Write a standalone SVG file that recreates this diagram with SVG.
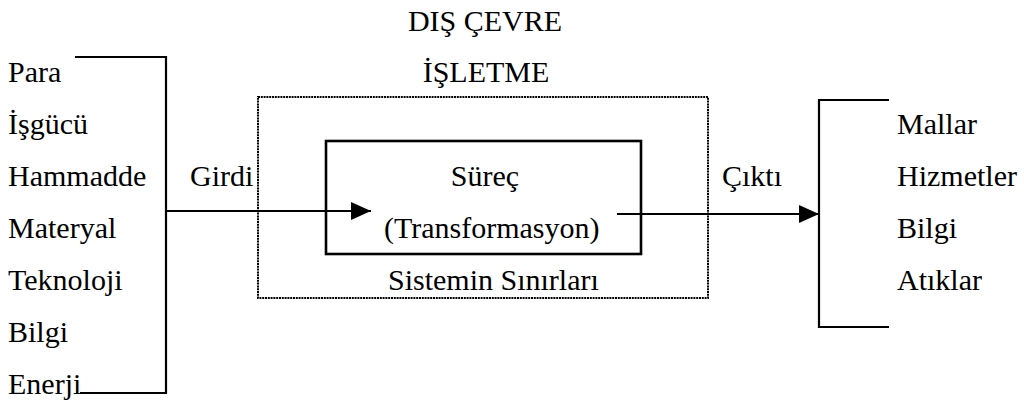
<svg xmlns="http://www.w3.org/2000/svg" width="1024" height="403" viewBox="0 0 1024 403">
<defs>
<style>
text{font-family:"Liberation Serif","Times New Roman",serif;font-size:30px;fill:#000}
.ln{fill:none;stroke:#000;stroke-width:2.2}
.dot{fill:none;stroke:#000;stroke-width:2;stroke-dasharray:2 0.8}
.box{fill:none;stroke:#000;stroke-width:2.6}
</style>
<marker id="ah" viewBox="0 0 20 18" refX="20" refY="9" markerWidth="20" markerHeight="18" markerUnits="userSpaceOnUse" orient="auto">
<path d="M0,0 L20,9 L0,18 Z" fill="#000"/>
</marker>
</defs>
<rect width="1024" height="403" fill="#fff"/>
<g id="environment">
<text x="485" y="31" text-anchor="middle">DIŞ ÇEVRE</text>
</g>
<g id="inputs">
<path class="ln" d="M75,57 H166 V393 H80"/>
<text x="8" y="82">Para</text>
<text x="8" y="134">İşgücü</text>
<text x="8" y="186">Hammadde</text>
<text x="8" y="238">Materyal</text>
<text x="8" y="290">Teknoloji</text>
<text x="8" y="342">Bilgi</text>
<text x="8" y="394">Enerji</text>
</g>
<g id="company">
<text x="486" y="82" text-anchor="middle">İŞLETME</text>
<rect class="dot" x="258" y="97" width="450" height="201"/>
<text x="388" y="290">Sistemin Sınırları</text>
</g>
<g id="process">
<rect class="box" x="326" y="141" width="315" height="113"/>
<text x="485" y="186" text-anchor="middle">Süreç</text>
<text x="384" y="238">(Transformasyon)</text>
</g>
<g id="outputs">
<path class="ln" d="M889,100 H819 V327 H889"/>
<text x="897" y="134">Mallar</text>
<text x="897" y="186">Hizmetler</text>
<text x="897" y="238">Bilgi</text>
<text x="897" y="290">Atıklar</text>
</g>
<g id="connectors">
<line class="ln" x1="166" y1="211" x2="371" y2="211" marker-end="url(#ah)"/>
<text x="190" y="186">Girdi</text>
<line class="ln" x1="617" y1="214" x2="819" y2="214" marker-end="url(#ah)"/>
<text x="722" y="186">Çıktı</text>
</g>
</svg>
